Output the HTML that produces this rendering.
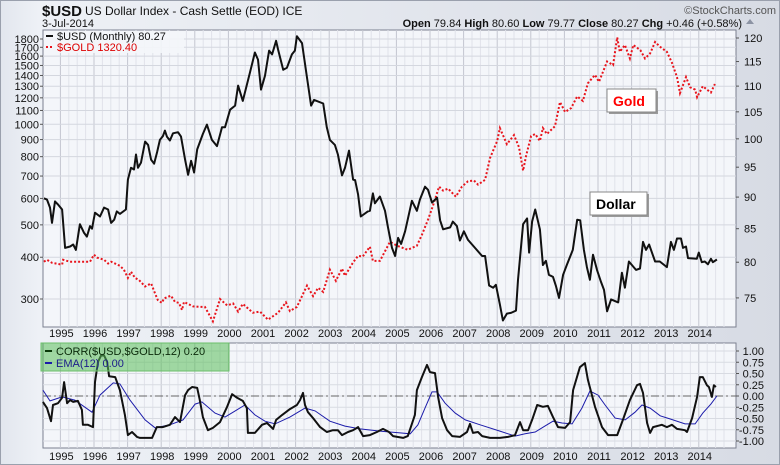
<!DOCTYPE html>
<html><head><meta charset="utf-8">
<style>
html,body{margin:0;padding:0;background:#d9dde6;}
svg{display:block;font-family:"Liberation Sans",sans-serif;}
</style></head>
<body>
<svg id="chart" width="780" height="465" viewBox="0 0 780 465" xmlns="http://www.w3.org/2000/svg">
<defs>
<linearGradient id="bg" x1="0" y1="0" x2="1" y2="0"><stop offset="0" stop-color="#e2e6ee"/><stop offset="0.05" stop-color="#eef1f6"/><stop offset="1" stop-color="#d7dbe4"/></linearGradient>
</defs>
<rect x="0" y="0" width="780" height="465" fill="url(#bg)"/>
<rect x="0.5" y="0.5" width="779" height="464" fill="none" stroke="#9aa0ad"/>
<text x="42" y="16" font-size="15" font-weight="bold" fill="#111">$USD</text>
<text x="85" y="15" font-size="12" fill="#111">US Dollar Index - Cash Settle (EOD) ICE</text>
<text x="42" y="27" font-size="11" fill="#111">3-Jul-2014</text>
<text x="776" y="14" font-size="11" fill="#555" text-anchor="end">©StockCharts.com</text>
<text x="742" y="27" font-size="11" fill="#111" text-anchor="end"><tspan font-weight="bold">Open</tspan> 79.84 <tspan font-weight="bold">High</tspan> 80.60 <tspan font-weight="bold">Low</tspan> 79.77 <tspan font-weight="bold">Close</tspan> 80.27 <tspan font-weight="bold">Chg</tspan> +0.46 (+0.58%)</text>
<path d="M746 24 L750 19 L754 24 Z" fill="#8c93a3"/>
<g id="main"></g>
<g id="lower"></g>
</svg>
<script>
// ---- Data ----
const usdYears=[1994.51,1994.60,1994.69,1994.75,1994.84,1994.93,1995.05,1995.14,1995.29,1995.38,1995.46,1995.58,1995.70,1995.79,1995.88,1995.94,1996.03,1996.18,1996.30,1996.42,1996.51,1996.60,1996.68,1996.77,1996.95,1997.01,1997.10,1997.19,1997.25,1997.31,1997.40,1997.52,1997.61,1997.70,1997.79,1997.88,1997.96,1998.05,1998.11,1998.17,1998.26,1998.35,1998.50,1998.59,1998.71,1998.80,1998.89,1998.98,1999.07,1999.24,1999.36,1999.51,1999.66,1999.81,1999.90,2000.05,2000.20,2000.29,2000.43,2000.64,2000.79,2000.88,2000.97,2001.09,2001.21,2001.30,2001.42,2001.48,2001.63,2001.74,2001.89,2001.98,2002.04,2002.19,2002.34,2002.46,2002.55,2002.82,2002.93,2003.02,2003.17,2003.26,2003.38,2003.47,2003.59,2003.71,2003.77,2003.86,2003.94,2004.15,2004.21,2004.30,2004.36,2004.51,2004.66,2004.75,2004.87,2004.96,2005.05,2005.14,2005.26,2005.46,2005.61,2005.70,2005.85,2005.94,2006.06,2006.21,2006.30,2006.39,2006.60,2006.68,2006.80,2006.89,2007.01,2007.13,2007.34,2007.55,2007.64,2007.76,2007.88,2007.96,2008.08,2008.17,2008.29,2008.41,2008.56,2008.62,2008.77,2008.89,2008.95,2009.04,2009.13,2009.27,2009.36,2009.45,2009.54,2009.66,2009.75,2009.84,2009.96,2010.07,2010.25,2010.38,2010.47,2010.58,2010.67,2010.76,2010.85,2010.97,2011.09,2011.18,2011.27,2011.39,2011.60,2011.71,2011.80,2011.92,2012.13,2012.25,2012.34,2012.43,2012.52,2012.70,2012.84,2013.05,2013.17,2013.26,2013.35,2013.47,2013.53,2013.62,2013.68,2013.94,2014.00,2014.09,2014.18,2014.27,2014.36,2014.42,2014.54];
const usdValues=[89.8,89.6,88.3,85.9,89.3,88.8,88.0,82.1,82.3,82.6,81.8,85.7,84.4,83.8,85.4,85.0,87.5,86.9,88.3,88.0,85.9,86.4,87.7,87.3,88.0,92.9,94.9,94.6,97.2,94.9,95.8,99.5,98.9,96.3,95.6,97.7,99.8,100.5,101.5,100.4,99.7,101.0,101.2,100.4,96.3,93.7,96.1,94.1,98.1,100.9,102.6,99.8,98.7,102.1,102.1,105.4,106.2,110.1,107.1,112.7,116.9,115.4,109.3,112.1,117.3,116.5,119.4,117.5,113.3,113.7,116.5,117.3,120.4,118.9,111.7,106.2,107.3,106.6,102.1,99.8,98.9,97.2,93.6,94.9,97.9,92.9,92.8,90.4,86.9,87.7,87.8,90.6,89.0,90.1,87.8,85.2,82.1,80.9,83.6,82.7,84.6,89.4,87.8,89.6,91.7,91.2,89.1,89.9,86.3,84.9,85.2,86.1,85.4,83.2,84.6,83.3,82.1,80.9,80.9,76.7,76.4,76.8,74.1,72.0,72.9,73.0,73.3,77.5,85.7,86.6,81.4,86.1,88.0,84.9,79.6,80.2,78.2,77.9,76.6,75.0,78.2,79.6,81.8,86.4,86.3,81.8,79.3,77.5,81.1,78.9,77.2,76.1,73.2,74.8,74.4,78.5,76.4,80.1,78.9,79.1,83.0,81.8,82.6,80.1,80.1,79.3,83.0,81.8,83.5,83.5,82.1,82.3,80.6,80.5,81.4,80.0,80.1,79.7,80.5,80.0,80.4];
const goldYears=[1994.51,1994.60,1994.75,1995.05,1995.08,1995.29,1995.88,1996.00,1996.09,1996.30,1996.42,1996.51,1996.77,1996.89,1997.01,1997.10,1997.22,1997.34,1997.52,1997.70,1997.82,1997.90,1998.02,1998.08,1998.29,1998.41,1998.53,1998.62,1998.68,1998.95,1999.15,1999.30,1999.54,1999.75,1999.96,2000.14,2000.29,2000.43,2000.73,2000.94,2001.18,2001.48,2001.71,2001.83,2002.04,2002.34,2002.52,2002.67,2002.82,2003.02,2003.20,2003.38,2003.47,2003.71,2003.86,2004.00,2004.21,2004.30,2004.51,2004.81,2005.02,2005.34,2005.61,2005.76,2005.94,2006.09,2006.27,2006.39,2006.54,2006.77,2006.95,2007.13,2007.31,2007.43,2007.64,2007.79,2008.00,2008.08,2008.29,2008.50,2008.65,2008.77,2008.86,2009.01,2009.13,2009.27,2009.36,2009.48,2009.72,2009.87,2010.02,2010.20,2010.38,2010.55,2010.70,2010.91,2011.03,2011.27,2011.45,2011.57,2011.65,2011.80,2011.95,2012.05,2012.26,2012.40,2012.55,2012.70,2012.85,2013.05,2013.20,2013.35,2013.44,2013.62,2013.74,2013.89,2013.95,2014.12,2014.24,2014.36,2014.48];
const goldValues=[388,393,385,380,393,388,388,407,399,393,383,388,377,367,347,362,347,342,327,334,311,298,292,301,307,294,292,278,294,285,284,284,257,300,287,291,275,290,273,275,260,273,293,276,284,329,306,324,315,367,340,370,352,386,404,402,430,390,390,445,433,421,433,467,518,571,651,633,642,607,651,675,679,660,682,794,891,974,872,928,854,726,805,922,935,891,974,935,987,1166,1088,1118,1212,1175,1327,1405,1340,1541,1505,1820,1648,1727,1574,1727,1668,1574,1630,1763,1705,1648,1530,1384,1240,1384,1290,1270,1205,1300,1270,1245,1320];
const corrYears=[1994.48,1994.60,1994.72,1994.78,1994.93,1995.05,1995.11,1995.20,1995.29,1995.38,1995.52,1995.64,1995.67,1995.82,1995.97,1996.03,1996.12,1996.21,1996.30,1996.39,1996.45,1996.63,1996.77,1996.92,1997.01,1997.13,1997.28,1997.37,1997.73,1997.87,1998.05,1998.26,1998.41,1998.56,1998.71,1998.80,1998.92,1999.07,1999.15,1999.24,1999.39,1999.54,1999.75,1999.96,2000.11,2000.26,2000.43,2000.55,2000.58,2000.79,2001.00,2001.15,2001.33,2001.42,2001.60,2001.83,2002.04,2002.13,2002.22,2002.28,2002.37,2002.52,2002.73,2002.93,2003.11,2003.26,2003.38,2003.56,2003.71,2003.86,2004.01,2004.21,2004.42,2004.60,2004.78,2004.90,2005.20,2005.34,2005.55,2005.61,2005.76,2005.91,2006.00,2006.15,2006.24,2006.36,2006.51,2006.66,2006.89,2007.10,2007.19,2007.28,2007.43,2007.55,2007.79,2008.08,2008.32,2008.53,2008.68,2008.77,2008.92,2009.04,2009.19,2009.36,2009.51,2009.66,2009.81,2010.02,2010.17,2010.26,2010.46,2010.61,2010.70,2010.91,2011.12,2011.30,2011.57,2011.74,2011.95,2012.16,2012.25,2012.34,2012.46,2012.55,2012.64,2012.90,2013.05,2013.20,2013.35,2013.59,2013.65,2013.80,2013.95,2014.03,2014.12,2014.24,2014.30,2014.39,2014.45,2014.51];
const corrValues=[-0.13,-0.27,-0.56,-0.2,-0.16,-0.04,0.31,-0.16,-0.09,-0.13,-0.11,-0.31,-0.64,-0.64,-0.69,0.31,0.76,0.9,0.9,0.76,0.44,0.42,0.13,-0.42,-0.87,-0.8,-0.91,-0.93,-0.93,-0.69,-0.69,-0.64,-0.47,-0.58,0.02,0.13,0.2,0.18,-0.09,-0.47,-0.76,-0.71,-0.58,-0.24,0.04,-0.04,-0.11,-0.27,-0.82,-0.82,-0.64,-0.6,-0.73,-0.53,-0.42,-0.29,-0.2,-0.09,0.07,-0.2,-0.36,-0.49,-0.69,-0.8,-0.76,-0.76,-0.87,-0.8,-0.76,-0.69,-0.89,-0.87,-0.8,-0.73,-0.8,-0.89,-0.93,-0.89,-0.42,0.13,0.42,0.69,0.53,0.51,-0.02,-0.49,-0.76,-0.89,-0.91,-0.8,-0.62,-0.82,-0.8,-0.89,-0.93,-0.93,-0.91,-0.87,-0.58,-0.76,-0.76,-0.53,-0.2,-0.24,-0.22,-0.47,-0.69,-0.71,-0.58,0.13,0.64,0.73,0.36,-0.24,-0.69,-0.87,-0.87,-0.53,-0.09,0.24,0.27,0.07,-0.6,-0.82,-0.69,-0.64,-0.69,-0.64,-0.73,-0.76,-0.8,-0.49,-0.02,0.42,0.42,0.24,0.2,-0.02,0.24,0.2];
const emaYears=[1994.48,1994.69,1995.05,1995.43,1995.94,1996.18,1996.57,1996.77,1997.07,1997.52,1997.82,1998.26,1998.65,1999.01,1999.21,1999.60,1999.90,2000.14,2000.49,2000.79,2001.09,2001.39,2001.83,2002.28,2002.58,2003.02,2003.47,2003.92,2004.51,2005.11,2005.41,2005.64,2005.85,2006.06,2006.21,2006.45,2006.75,2007.05,2007.49,2008.08,2008.53,2008.83,2009.13,2009.42,2009.66,2009.93,2010.23,2010.52,2010.76,2011.00,2011.21,2011.51,2011.81,2012.10,2012.31,2012.55,2012.85,2013.14,2013.59,2013.89,2014.12,2014.36,2014.54];
const emaValues=[0.13,-0.11,-0.02,-0.09,-0.36,0.02,0.29,0.27,-0.09,-0.53,-0.71,-0.64,-0.53,-0.18,-0.13,-0.38,-0.47,-0.36,-0.2,-0.42,-0.56,-0.62,-0.47,-0.27,-0.33,-0.56,-0.67,-0.73,-0.78,-0.82,-0.84,-0.64,-0.27,0.09,0.09,-0.16,-0.38,-0.53,-0.64,-0.78,-0.89,-0.84,-0.8,-0.67,-0.56,-0.6,-0.62,-0.27,0.11,0.02,-0.2,-0.49,-0.53,-0.36,-0.2,-0.27,-0.44,-0.51,-0.62,-0.62,-0.38,-0.18,0.0];
const yearLabels=[1995,1996,1997,1998,1999,2000,2001,2002,2003,2004,2005,2006,2007,2008,2009,2010,2011,2012,2013,2014];
const leftTicks=[300,400,500,600,700,800,900,1000,1100,1200,1300,1400,1500,1600,1700,1800];
const rightTicks=[75,80,85,90,95,100,105,110,115,120];
const corrTicks=[1,0.75,0.5,0.25,0,-0.25,-0.5,-0.75,-1];

// ---- Layout / scales ----
const NS="http://www.w3.org/2000/svg";
const P={l:43,r:736,t:30,b:327}; const L={t:343,b:448};
const xS=y=>60.4+(y-1995)*33.6;
const yLeft=v=>39+145.1*Math.log(1800/v);
const yRight=v=>38+553*Math.log(120/v);
const yCorr=v=>396-45*v;
function mk(tag,attrs,parent){const e=document.createElementNS(NS,tag);for(const k in attrs)e.setAttribute(k,attrs[k]);parent.appendChild(e);return e;}
const main=document.getElementById('main'), lower=document.getElementById('lower');

function panel(g,top,bot,name){
  const r=mk('rect',{x:P.l,y:top,width:P.r-P.l,height:bot-top,fill:'#f4f6fa',stroke:'#7b8090'},g);
  
  
  yearLabels.forEach(yr=>{const x=xS(yr);
    const l=mk('line',{x1:x,x2:x,y1:top,y2:bot,stroke:'#c3c6d0','stroke-width':1},g);
    
    
    [0.25,0.5,0.75].forEach(f=>{const xm=xS(yr+f); if(xm<P.r&&xm>P.l){const m=mk('line',{x1:xm,x2:xm,y1:top,y2:bot,stroke:'#e1e3ea','stroke-width':1},g);
      
      }});
  });
}
panel(main,P.t,P.b,'price-panel');
leftTicks.forEach(v=>{const y=yLeft(v);
  const l=mk('line',{x1:P.l,x2:P.r,y1:y,y2:y,stroke:'#d4d7df'},main);
  
  
  mk('line',{x1:P.l-3,x2:P.l,y1:y,y2:y,stroke:'#555'},main);
  const t=mk('text',{x:P.l-4,y:y+4,'font-size':11,'text-anchor':'end',fill:'#111'},main);t.textContent=v;
  
  
});
rightTicks.forEach(v=>{const y=yRight(v);
  mk('line',{x1:P.r,x2:P.r+3,y1:y,y2:y,stroke:'#555'},main);
  const t=mk('text',{x:P.r+8,y:y+4,'font-size':11,fill:'#111'},main);t.textContent=v;
  
  
});
function line(xs,vs,ys,g,attrs,name){const d=xs.map((x,i)=>(i?'L':'M')+xS(x).toFixed(1)+' '+ys(vs[i]).toFixed(1)).join(' ');
  const p=mk('path',Object.assign({d:d,fill:'none'},attrs),g);
  
  }
line(goldYears,goldValues,yLeft,main,{stroke:'#e8141c','stroke-width':2,'stroke-dasharray':'2 2'},'gold-line');
line(usdYears,usdValues,yRight,main,{stroke:'#111','stroke-width':2,'stroke-linejoin':'round'},'usd-line');
// x labels between panels
yearLabels.forEach(yr=>{
  [337,460].forEach(yy=>{const t=mk('text',{x:xS(yr)+1,y:yy,'font-size':11,'text-anchor':'middle',fill:'#111'},main);t.textContent=yr;
  
  });
});
// legend top
const lg=mk('g',{},main);


mk('rect',{x:44,y:31,width:140,height:22,fill:'#f4f6fa',opacity:0.9},lg);
mk('line',{x1:46,x2:53,y1:36,y2:36,stroke:'#111','stroke-width':2},lg);
let t=mk('text',{x:57,y:40,'font-size':11,fill:'#111'},lg);t.textContent='$USD (Monthly) 80.27';
mk('line',{x1:46,x2:53,y1:47,y2:47,stroke:'#e8141c','stroke-width':2,'stroke-dasharray':'2 2'},lg);
t=mk('text',{x:57,y:51,'font-size':11,fill:'#d00'},lg);t.textContent='$GOLD 1320.40';
// annotations
function note(x,y,w,h,txt,col,name){const g=mk('g',{},main);
  
  
  mk('rect',{x:x+2,y:y+2,width:w,height:h,fill:'#9a9a9a'},g);
  mk('rect',{x:x,y:y,width:w,height:h,fill:'#fff',stroke:'#888'},g);
  const tt=mk('text',{x:x+6,y:y+h-6,'font-size':14,'font-weight':'bold',fill:col},g);tt.textContent=txt;}
note(607,89,49,23,'Gold','#f00','gold-annotation');
note(590,192,57,23,'Dollar','#000','dollar-annotation');

// lower panel
panel(lower,L.t,L.b,'correlation-panel');
corrTicks.forEach(v=>{const y=yCorr(v);
  const l=mk('line',{x1:P.l,x2:P.r,y1:y,y2:y,stroke:'#d8dbe2'},lower);
  
  
  mk('line',{x1:P.r,x2:P.r+3,y1:y,y2:y,stroke:'#555'},lower);
  const tx=mk('text',{x:P.r+28,y:y+4,'font-size':11,'text-anchor':'end',fill:'#111'},lower);tx.textContent=v.toFixed(2);
  
  
});
const zl=mk('line',{x1:P.l,x2:P.r,y1:yCorr(0),y2:yCorr(0),stroke:'#666','stroke-dasharray':'8 3 2 3'},lower);


line(emaYears,emaValues,yCorr,lower,{stroke:'#1c1caa','stroke-width':1},'ema-line');
line(corrYears,corrValues,yCorr,lower,{stroke:'#111','stroke-width':2,'stroke-linejoin':'round'},'corr-line');
const cl=mk('g',{},lower);


mk('rect',{x:41,y:343,width:188,height:28,fill:'rgba(90,190,90,0.55)',stroke:'#6bbf6b'},cl);
mk('line',{x1:45,x2:52,y1:351,y2:351,stroke:'#0a3a0a','stroke-width':2},cl);
t=mk('text',{x:56,y:355,'font-size':11,fill:'#0a2a0a'},cl);t.textContent='CORR($USD,$GOLD,12) 0.20';
mk('line',{x1:45,x2:52,y1:363,y2:363,stroke:'#1c1caa','stroke-width':2},cl);
t=mk('text',{x:56,y:367,'font-size':11,fill:'#1c1c8a'},cl);t.textContent='EMA(12) 0.00';
</script>
</body></html>
